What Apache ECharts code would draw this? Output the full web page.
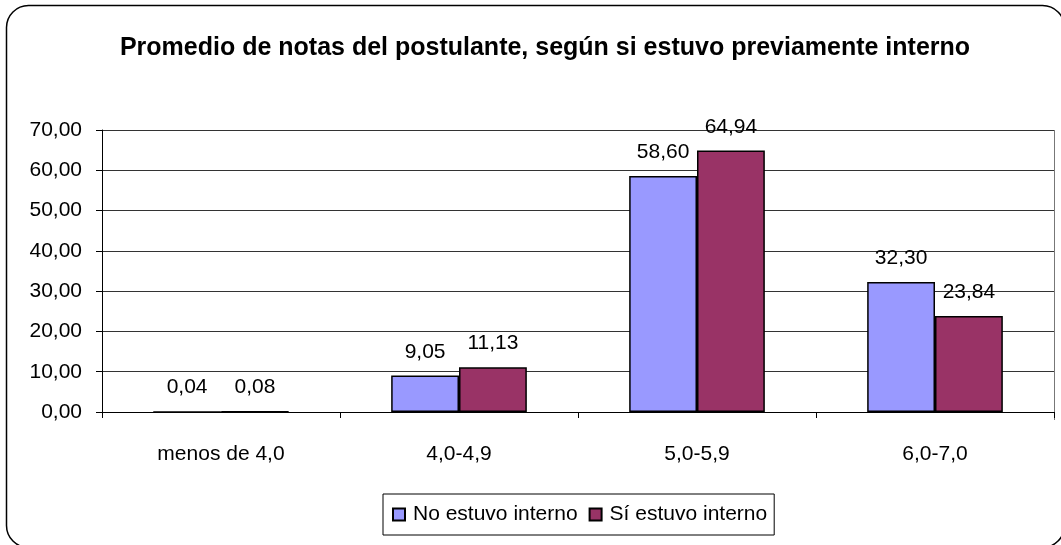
<!DOCTYPE html>
<html>
<head>
<meta charset="utf-8">
<script src="https://cdn.jsdelivr.net/npm/echarts@6/dist/echarts.min.js"></script>
<style>
  html, body { margin: 0; padding: 0; background: #fff; }
  #chart { width: 1061px; height: 545px; }
</style>
</head>
<body>
<div id="chart"></div>
<script>
// datos
const categorias = ['menos de 4,0', '4,0-4,9', '5,0-5,9', '6,0-7,0'];
const noInterno = [0.04, 9.05, 58.60, 32.30];
const siInterno = [0.08, 11.13, 64.94, 23.84];
const nombres = ['No estuvo interno', 'Sí estuvo interno'];

const fuente = '"Liberation Sans", Arial, sans-serif';
const coma = v => v.toFixed(2).replace('.', ',');

const chart = echarts.init(document.getElementById('chart'));

const etiqueta = {
  show: true,
  position: 'top',
  distance: 13,
  color: '#000',
  fontFamily: fuente,
  fontSize: 21,
  formatter: p => coma(p.value)
};

chart.setOption({
  animation: false,
  title: {
    text: 'Promedio de notas del postulante, según si estuvo previamente interno',
    left: 540,
    textAlign: 'center',
    top: 31,
    textStyle: { fontFamily: fuente, fontSize: 25, fontWeight: 'bold', color: '#000' }
  },
  graphic: [{
    // marco redondeado del gráfico
    type: 'rect',
    shape: { x: 6.5, y: 5.5, width: 1058, height: 542, r: 22 },
    style: { fill: 'none', stroke: '#000', lineWidth: 1.5 },
    z: -1
  }, {
    // borde derecho del área de trazado
    type: 'line',
    shape: { x1: 1054.5, y1: 130, x2: 1054.5, y2: 420 },
    style: { stroke: '#777', lineWidth: 1 }
  }],
  legend: {
    data: nombres,
    left: 383,
    top: 494,
    padding: [10, 7, 10, 9],
    itemGap: 11,
    itemWidth: 12,
    itemHeight: 12,
    borderColor: '#000',
    borderWidth: 1,
    icon: 'rect',
    textStyle: { fontFamily: fuente, fontSize: 21, color: '#000', padding: [0, 0, 0, 3] }
  },
  grid: { left: 102, right: 7, top: 130, bottom: 133 },
  xAxis: {
    type: 'category',
    data: categorias,
    axisLine: { lineStyle: { color: '#000', width: 1 } },
    axisTick: { show: true, length: 6, lineStyle: { color: '#000' } },
    axisLabel: { color: '#000', fontFamily: fuente, fontSize: 21, margin: 32 },
    splitLine: { show: false }
  },
  yAxis: {
    type: 'value',
    min: 0,
    max: 70,
    interval: 10,
    axisLine: { show: true, lineStyle: { color: '#000', width: 1 } },
    axisTick: { show: true, length: 6, lineStyle: { color: '#000' } },
    axisLabel: { color: '#000', fontFamily: fuente, fontSize: 21, margin: 20, formatter: v => coma(v) },
    splitLine: { show: true, lineStyle: { color: '#333', width: 1 } }
  },
  series: [
    {
      name: nombres[0],
      type: 'bar',
      data: noInterno,
      barGap: '0%',
      barCategoryGap: '43%',
      itemStyle: { color: '#9999ff', borderColor: '#000', borderWidth: 1.5 },
      label: etiqueta
    },
    {
      name: nombres[1],
      type: 'bar',
      data: siInterno,
      itemStyle: { color: '#993366', borderColor: '#000', borderWidth: 1.5 },
      label: etiqueta
    }
  ]
});

window.addEventListener('resize', chart.resize);
</script>
</body>
</html>
